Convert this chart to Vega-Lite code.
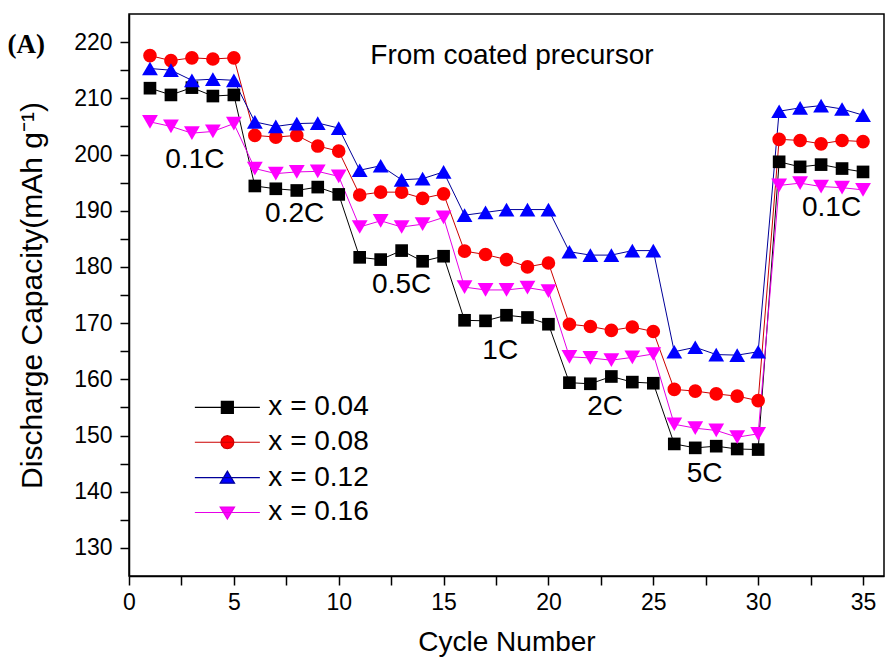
{
  "$schema": "https://vega.github.io/schema/vega-lite/v6.json",
  "width": 755,
  "height": 562,
  "autosize": {"type": "none"},
  "padding": {"left": 129, "top": 14, "right": 1, "bottom": 90},
  "background": "white",
  "datasets": {
    "main": [
      {"series": "x = 0.04", "cycle": 1, "capacity": 211.8}, {"series": "x = 0.04", "cycle": 2, "capacity": 210.6}, {"series": "x = 0.04", "cycle": 3, "capacity": 211.9}, {"series": "x = 0.04", "cycle": 4, "capacity": 210.4}, {"series": "x = 0.04", "cycle": 5, "capacity": 210.6},
      {"series": "x = 0.04", "cycle": 6, "capacity": 194.4}, {"series": "x = 0.04", "cycle": 7, "capacity": 193.9}, {"series": "x = 0.04", "cycle": 8, "capacity": 193.6}, {"series": "x = 0.04", "cycle": 9, "capacity": 194.2}, {"series": "x = 0.04", "cycle": 10, "capacity": 192.9},
      {"series": "x = 0.04", "cycle": 11, "capacity": 181.7}, {"series": "x = 0.04", "cycle": 12, "capacity": 181.3}, {"series": "x = 0.04", "cycle": 13, "capacity": 182.9}, {"series": "x = 0.04", "cycle": 14, "capacity": 181.0}, {"series": "x = 0.04", "cycle": 15, "capacity": 181.9},
      {"series": "x = 0.04", "cycle": 16, "capacity": 170.5}, {"series": "x = 0.04", "cycle": 17, "capacity": 170.4}, {"series": "x = 0.04", "cycle": 18, "capacity": 171.4}, {"series": "x = 0.04", "cycle": 19, "capacity": 171.0}, {"series": "x = 0.04", "cycle": 20, "capacity": 169.8},
      {"series": "x = 0.04", "cycle": 21, "capacity": 159.4}, {"series": "x = 0.04", "cycle": 22, "capacity": 159.2}, {"series": "x = 0.04", "cycle": 23, "capacity": 160.5}, {"series": "x = 0.04", "cycle": 24, "capacity": 159.5}, {"series": "x = 0.04", "cycle": 25, "capacity": 159.3},
      {"series": "x = 0.04", "cycle": 26, "capacity": 148.5}, {"series": "x = 0.04", "cycle": 27, "capacity": 147.8}, {"series": "x = 0.04", "cycle": 28, "capacity": 148.1}, {"series": "x = 0.04", "cycle": 29, "capacity": 147.6}, {"series": "x = 0.04", "cycle": 30, "capacity": 147.5},
      {"series": "x = 0.04", "cycle": 31, "capacity": 198.7}, {"series": "x = 0.04", "cycle": 32, "capacity": 197.8}, {"series": "x = 0.04", "cycle": 33, "capacity": 198.2}, {"series": "x = 0.04", "cycle": 34, "capacity": 197.5}, {"series": "x = 0.04", "cycle": 35, "capacity": 196.9},
      {"series": "x = 0.08", "cycle": 1, "capacity": 217.6}, {"series": "x = 0.08", "cycle": 2, "capacity": 216.7}, {"series": "x = 0.08", "cycle": 3, "capacity": 217.2}, {"series": "x = 0.08", "cycle": 4, "capacity": 217.0}, {"series": "x = 0.08", "cycle": 5, "capacity": 217.2},
      {"series": "x = 0.08", "cycle": 6, "capacity": 203.4}, {"series": "x = 0.08", "cycle": 7, "capacity": 203.1}, {"series": "x = 0.08", "cycle": 8, "capacity": 203.4}, {"series": "x = 0.08", "cycle": 9, "capacity": 201.5}, {"series": "x = 0.08", "cycle": 10, "capacity": 200.6},
      {"series": "x = 0.08", "cycle": 11, "capacity": 192.8}, {"series": "x = 0.08", "cycle": 12, "capacity": 193.3}, {"series": "x = 0.08", "cycle": 13, "capacity": 193.3}, {"series": "x = 0.08", "cycle": 14, "capacity": 192.2}, {"series": "x = 0.08", "cycle": 15, "capacity": 193.0},
      {"series": "x = 0.08", "cycle": 16, "capacity": 182.8}, {"series": "x = 0.08", "cycle": 17, "capacity": 182.2}, {"series": "x = 0.08", "cycle": 18, "capacity": 181.3}, {"series": "x = 0.08", "cycle": 19, "capacity": 180.0}, {"series": "x = 0.08", "cycle": 20, "capacity": 180.7},
      {"series": "x = 0.08", "cycle": 21, "capacity": 169.8}, {"series": "x = 0.08", "cycle": 22, "capacity": 169.4}, {"series": "x = 0.08", "cycle": 23, "capacity": 168.7}, {"series": "x = 0.08", "cycle": 24, "capacity": 169.3}, {"series": "x = 0.08", "cycle": 25, "capacity": 168.5},
      {"series": "x = 0.08", "cycle": 26, "capacity": 158.2}, {"series": "x = 0.08", "cycle": 27, "capacity": 157.9}, {"series": "x = 0.08", "cycle": 28, "capacity": 157.4}, {"series": "x = 0.08", "cycle": 29, "capacity": 157.0}, {"series": "x = 0.08", "cycle": 30, "capacity": 156.2},
      {"series": "x = 0.08", "cycle": 31, "capacity": 202.7}, {"series": "x = 0.08", "cycle": 32, "capacity": 202.5}, {"series": "x = 0.08", "cycle": 33, "capacity": 201.9}, {"series": "x = 0.08", "cycle": 34, "capacity": 202.5}, {"series": "x = 0.08", "cycle": 35, "capacity": 202.3},
      {"series": "x = 0.12", "cycle": 1, "capacity": 215.3}, {"series": "x = 0.12", "cycle": 2, "capacity": 215.0}, {"series": "x = 0.12", "cycle": 3, "capacity": 213.2}, {"series": "x = 0.12", "cycle": 4, "capacity": 213.4}, {"series": "x = 0.12", "cycle": 5, "capacity": 213.2},
      {"series": "x = 0.12", "cycle": 6, "capacity": 205.8}, {"series": "x = 0.12", "cycle": 7, "capacity": 205.0}, {"series": "x = 0.12", "cycle": 8, "capacity": 205.5}, {"series": "x = 0.12", "cycle": 9, "capacity": 205.6}, {"series": "x = 0.12", "cycle": 10, "capacity": 204.7},
      {"series": "x = 0.12", "cycle": 11, "capacity": 197.2}, {"series": "x = 0.12", "cycle": 12, "capacity": 198.0}, {"series": "x = 0.12", "cycle": 13, "capacity": 195.5}, {"series": "x = 0.12", "cycle": 14, "capacity": 195.7}, {"series": "x = 0.12", "cycle": 15, "capacity": 196.9},
      {"series": "x = 0.12", "cycle": 16, "capacity": 189.2}, {"series": "x = 0.12", "cycle": 17, "capacity": 189.7}, {"series": "x = 0.12", "cycle": 18, "capacity": 190.2}, {"series": "x = 0.12", "cycle": 19, "capacity": 190.2}, {"series": "x = 0.12", "cycle": 20, "capacity": 190.2},
      {"series": "x = 0.12", "cycle": 21, "capacity": 182.7}, {"series": "x = 0.12", "cycle": 22, "capacity": 182.1}, {"series": "x = 0.12", "cycle": 23, "capacity": 182.1}, {"series": "x = 0.12", "cycle": 24, "capacity": 182.9}, {"series": "x = 0.12", "cycle": 25, "capacity": 182.9},
      {"series": "x = 0.12", "cycle": 26, "capacity": 164.9}, {"series": "x = 0.12", "cycle": 27, "capacity": 165.7}, {"series": "x = 0.12", "cycle": 28, "capacity": 164.4}, {"series": "x = 0.12", "cycle": 29, "capacity": 164.3}, {"series": "x = 0.12", "cycle": 30, "capacity": 164.9},
      {"series": "x = 0.12", "cycle": 31, "capacity": 207.7}, {"series": "x = 0.12", "cycle": 32, "capacity": 208.3}, {"series": "x = 0.12", "cycle": 33, "capacity": 208.7}, {"series": "x = 0.12", "cycle": 34, "capacity": 208.1}, {"series": "x = 0.12", "cycle": 35, "capacity": 207.0},
      {"series": "x = 0.16", "cycle": 1, "capacity": 205.8}, {"series": "x = 0.16", "cycle": 2, "capacity": 205.0}, {"series": "x = 0.16", "cycle": 3, "capacity": 203.8}, {"series": "x = 0.16", "cycle": 4, "capacity": 204.1}, {"series": "x = 0.16", "cycle": 5, "capacity": 205.5},
      {"series": "x = 0.16", "cycle": 6, "capacity": 197.5}, {"series": "x = 0.16", "cycle": 7, "capacity": 196.6}, {"series": "x = 0.16", "cycle": 8, "capacity": 196.9}, {"series": "x = 0.16", "cycle": 9, "capacity": 197.0}, {"series": "x = 0.16", "cycle": 10, "capacity": 196.1},
      {"series": "x = 0.16", "cycle": 11, "capacity": 187.1}, {"series": "x = 0.16", "cycle": 12, "capacity": 188.2}, {"series": "x = 0.16", "cycle": 13, "capacity": 187.1}, {"series": "x = 0.16", "cycle": 14, "capacity": 187.6}, {"series": "x = 0.16", "cycle": 15, "capacity": 188.8},
      {"series": "x = 0.16", "cycle": 16, "capacity": 176.4}, {"series": "x = 0.16", "cycle": 17, "capacity": 175.9}, {"series": "x = 0.16", "cycle": 18, "capacity": 175.9}, {"series": "x = 0.16", "cycle": 19, "capacity": 176.3}, {"series": "x = 0.16", "cycle": 20, "capacity": 175.7},
      {"series": "x = 0.16", "cycle": 21, "capacity": 164.0}, {"series": "x = 0.16", "cycle": 22, "capacity": 163.8}, {"series": "x = 0.16", "cycle": 23, "capacity": 163.4}, {"series": "x = 0.16", "cycle": 24, "capacity": 163.9}, {"series": "x = 0.16", "cycle": 25, "capacity": 164.5},
      {"series": "x = 0.16", "cycle": 26, "capacity": 152.0}, {"series": "x = 0.16", "cycle": 27, "capacity": 151.3}, {"series": "x = 0.16", "cycle": 28, "capacity": 150.9}, {"series": "x = 0.16", "cycle": 29, "capacity": 149.7}, {"series": "x = 0.16", "cycle": 30, "capacity": 150.3},
      {"series": "x = 0.16", "cycle": 31, "capacity": 194.5}, {"series": "x = 0.16", "cycle": 32, "capacity": 194.9}, {"series": "x = 0.16", "cycle": 33, "capacity": 194.3}, {"series": "x = 0.16", "cycle": 34, "capacity": 194.1}, {"series": "x = 0.16", "cycle": 35, "capacity": 193.7}
    ],
    "notes": [
      {"kind": "rate", "label": "From coated precursor", "cycle": 18.26, "capacity": 217.6},
      {"kind": "rate", "label": "0.1C", "cycle": 3.14, "capacity": 199.0},
      {"kind": "rate", "label": "0.2C", "cycle": 7.9, "capacity": 189.5},
      {"kind": "rate", "label": "0.5C", "cycle": 13.0, "capacity": 176.7},
      {"kind": "rate", "label": "1C", "cycle": 17.7, "capacity": 165.1},
      {"kind": "rate", "label": "2C", "cycle": 22.7, "capacity": 155.0},
      {"kind": "rate", "label": "5C", "cycle": 27.45, "capacity": 143.1},
      {"kind": "rate", "label": "0.1C", "cycle": 33.5, "capacity": 190.5},
      {"kind": "panel", "label": "(A)", "cycle": -4.9, "capacity": 219.4}
    ],
    "key": [
      {"series": "x = 0.04", "cycle": 4.69, "capacity": 155.0},
      {"series": "x = 0.08", "cycle": 4.69, "capacity": 148.8},
      {"series": "x = 0.12", "cycle": 4.69, "capacity": 142.5},
      {"series": "x = 0.16", "cycle": 4.69, "capacity": 136.3}
    ]
  },
  "config": {
    "view": {"stroke": "black", "strokeWidth": 1.5},
    "font": "Liberation Sans",
    "axis": {
      "grid": false,
      "domainColor": "black",
      "domainWidth": 1.5,
      "tickColor": "black",
      "tickWidth": 1.5,
      "labelColor": "black",
      "titleColor": "black",
      "labelFont": "Liberation Sans",
      "titleFont": "Liberation Sans",
      "titleFontWeight": "normal",
      "labelOverlap": false
    }
  },
  "data": {"name": "main"},
  "encoding": {
    "x": {
      "field": "cycle", "type": "quantitative",
      "scale": {"domain": [0, 36], "nice": false, "zero": false},
      "axis": {
        "values": [0, 2.5, 5, 7.5, 10, 12.5, 15, 17.5, 20, 22.5, 25, 27.5, 30, 32.5, 35],
        "labelExpr": "datum.value % 5 === 0 ? datum.label : ''",
        "tickSize": 9, "labelFontSize": 23, "labelPadding": 6, "labelFlush": false,
        "title": "Cycle Number", "titleFontSize": 28, "titlePadding": 14
      }
    },
    "y": {
      "field": "capacity", "type": "quantitative",
      "scale": {"domain": [125, 225], "nice": false, "zero": false},
      "axis": {
        "values": [130, 135, 140, 145, 150, 155, 160, 165, 170, 175, 180, 185, 190, 195, 200, 205, 210, 215, 220],
        "labelExpr": "datum.value % 10 === 0 ? datum.label : ''",
        "tickSize": 9, "labelFontSize": 23, "labelPadding": 8,
        "title": "Discharge Capacity(mAh g⁻¹)", "titleFontSize": 30, "titlePadding": 26
      }
    }
  },
  "layer": [
    {
      "mark": {"type": "line", "strokeWidth": 1},
      "encoding": {
        "stroke": {
          "field": "series", "type": "nominal",
          "scale": {"domain": ["x = 0.04", "x = 0.08", "x = 0.12", "x = 0.16"], "range": ["#000000", "#cc0000", "#000099", "#e600e6"]},
          "legend": null
        }
      }
    },
    {
      "transform": [{"filter": "datum.series === 'x = 0.04'"}],
      "mark": {"type": "point", "filled": true, "shape": "square", "size": 160, "color": "#000000", "opacity": 1}
    },
    {
      "transform": [{"filter": "datum.series === 'x = 0.08'"}],
      "mark": {"type": "point", "filled": true, "shape": "circle", "size": 185, "color": "#ff0000", "opacity": 1}
    },
    {
      "transform": [{"filter": "datum.series === 'x = 0.12'"}],
      "mark": {"type": "point", "filled": true, "shape": "triangle-up", "size": 250, "color": "#0000ff", "opacity": 1}
    },
    {
      "transform": [{"filter": "datum.series === 'x = 0.16'"}],
      "mark": {"type": "point", "filled": true, "shape": "triangle-down", "size": 250, "color": "#ff00ff", "opacity": 1}
    },
    {
      "data": {"name": "key"},
      "mark": {"type": "point", "filled": true, "size": 400, "strokeWidth": 1.2, "opacity": 1},
      "encoding": {
        "fill": {
          "field": "series", "type": "nominal",
          "scale": {"domain": ["x = 0.04", "x = 0.08", "x = 0.12", "x = 0.16"], "range": ["#000000", "#ff0000", "#0000ff", "#ff00ff"]},
          "legend": null
        },
        "stroke": {"field": "series", "type": "nominal", "legend": null},
        "shape": {
          "field": "series", "type": "nominal",
          "scale": {
            "domain": ["x = 0.04", "x = 0.08", "x = 0.12", "x = 0.16"],
            "range": [
              "M-3.25,0H3.25M-0.6,-0.6H0.6V0.6H-0.6Z",
              "M-3.25,0H3.25M0.65,0L0.563,0.325L0.325,0.563L0,0.65L-0.325,0.563L-0.563,0.325L-0.65,0L-0.563,-0.325L-0.325,-0.563L0,-0.65L0.325,-0.563L0.563,-0.325Z",
              "M-3.25,0H3.25M0,-0.65L0.72,0.55H-0.72Z",
              "M-3.25,0H3.25M0,0.65L0.72,-0.55H-0.72Z"
            ]
          },
          "legend": null
        }
      }
    },
    {
      "data": {"name": "key"},
      "mark": {"type": "text", "fontSize": 28, "font": "Liberation Sans", "color": "black", "align": "left", "baseline": "middle", "dx": 41},
      "encoding": {"text": {"field": "series", "type": "nominal"}}
    },
    {
      "data": {"name": "notes"},
      "transform": [{"filter": "datum.kind === 'rate'"}],
      "mark": {"type": "text", "fontSize": 28, "font": "Liberation Sans", "color": "black", "align": "center", "baseline": "middle"},
      "encoding": {"text": {"field": "label", "type": "nominal"}}
    },
    {
      "data": {"name": "notes"},
      "transform": [{"filter": "datum.kind === 'panel'"}],
      "mark": {"type": "text", "fontSize": 27, "font": "Liberation Serif", "fontWeight": "bold", "color": "black", "align": "center", "baseline": "middle"},
      "encoding": {"text": {"field": "label", "type": "nominal"}}
    }
  ]
}
